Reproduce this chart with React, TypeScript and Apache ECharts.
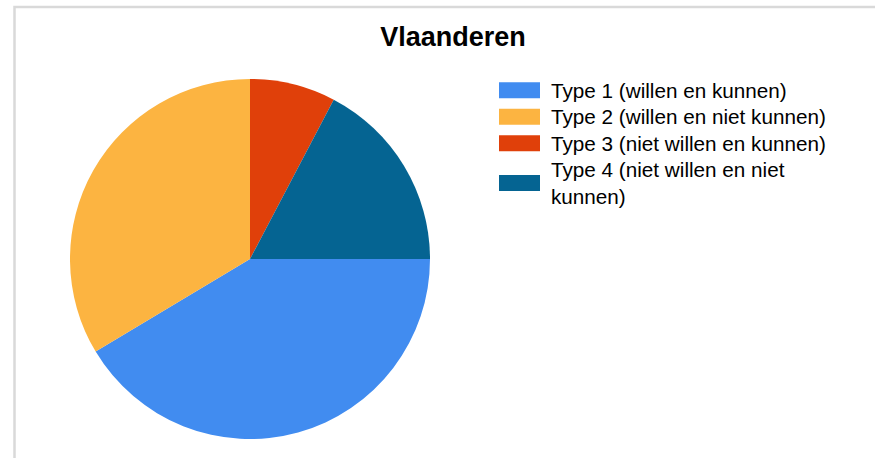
import React, { useEffect, useRef } from "react";
import * as echarts from "echarts";

const titleText = "Vlaanderen";
const categories = [
  "Type 1 (willen en kunnen)",
  "Type 2 (willen en niet kunnen)",
  "Type 3 (niet willen en kunnen)",
  "Type 4 (niet willen en niet kunnen)",
];
const legendLabels = [
  "Type 1 (willen en kunnen)",
  "Type 2 (willen en niet kunnen)",
  "Type 3 (niet willen en kunnen)",
  "Type 4 (niet willen en niet\nkunnen)",
];
const values = [41.4, 33.6, 7.7, 17.3];
const colors = ["#418CF0", "#FCB441", "#E0400A", "#056492"];

export default function App() {
  const ref = useRef<HTMLDivElement>(null);
  useEffect(() => {
    document.body.style.margin = "0";
    const chart = echarts.init(ref.current!, null, { renderer: "svg" });
    chart.setOption({
      animation: false,
      backgroundColor: "#ffffff",
      color: colors,
      title: {
        text: titleText,
        left: 453,
        top: 22,
        textAlign: "center",
        textStyle: {
          fontFamily: "Liberation Sans, Arial, sans-serif",
          fontWeight: "bold",
          fontSize: 27,
          lineHeight: 30,
          color: "#000000",
        },
        padding: 0,
      },
      legend: {
        orient: "vertical",
        left: 499,
        top: 77,
        padding: 0,
        itemGap: 0,
        itemWidth: 41,
        itemHeight: 16,
        icon: "rect",
        selectedMode: false,
        data: categories,
        formatter: (name: string) => legendLabels[categories.indexOf(name)],
        textStyle: {
          fontFamily: "Liberation Sans, Arial, sans-serif",
          fontSize: 20.7,
          lineHeight: 26.5,
          color: "#000000",
          padding: [0, 0, 0, 6],
        },
      },
      graphic: [
        {
          type: "rect",
          silent: true,
          shape: { x: 14.5, y: 7, width: 900, height: 500 },
          style: { fill: "none", stroke: "#d9d9d9", lineWidth: 2.5 },
          z: -1,
        },
      ],
      series: [
        {
          type: "pie",
          center: [250, 259],
          radius: 180,
          startAngle: 0,
          clockwise: true,
          label: { show: false },
          labelLine: { show: false },
          emphasis: { disabled: true },
          itemStyle: { borderWidth: 0 },
          data: categories.map((c, i) => ({ name: c, value: values[i] })),
        },
      ],
    });
    return () => chart.dispose();
  }, []);
  return <div ref={ref} style={{ width: 875, height: 458 }} />;
}
